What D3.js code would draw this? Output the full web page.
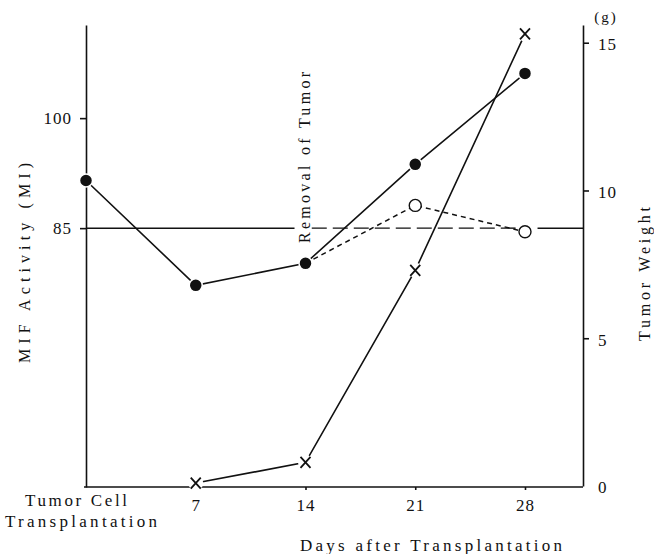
<!DOCTYPE html>
<html>
<head>
<meta charset="utf-8">
<script src="https://cdn.jsdelivr.net/npm/d3@7"></script>
<style>
  body { margin: 0; background: #fff; }
  text { font-family: "Liberation Serif", "DejaVu Serif", serif; fill: #111; }
</style>
</head>
<body>
<script>
// values
var days = [0, 7, 14, 21, 28];
var mifActivity = [91.5, 77.2, 80.2, 93.7, 106.1];

var removedDays = [14, 21, 28];
var mifRemoved = [80.2, 88.1, 84.5];

var tumorDays = [7, 14, 21, 28];
var tumorWeight = [0.1, 0.8, 7.3, 15.3];

var mifTicks = [85, 100];
var weightTicks = [0, 5, 10, 15];
var dayTicks = [7, 14, 21, 28];
var normalMif = 85;

var chart = {
	width: 654,
	height: 554
};

var svg = d3.select("body")
	.append("svg")
	.attr("width", chart.width)
	.attr("height", chart.height)
	.style("background-color", "white");

var x = d3.scaleLinear().domain([0, 31.7]).range([86, 583]);
var yMif = d3.scaleLinear().domain([49.7, 112.7]).range([487, 25]);
var yWeight = d3.scaleLinear().domain([0, 15.6]).range([486, 25]);

function styleAxis(g){
	g.selectAll("path, line").attr("stroke", "#111").attr("stroke-width", 1.6);
	g.selectAll("text")
		.style("font-size", "17px")
		.style("font-family", "Liberation Serif, serif")
		.attr("fill", "#111");
}

// left axis
svg.append("g")
	.attr("transform", "translate(" + x(0) + ",0)")
	.call(d3.axisLeft(yMif).tickValues(mifTicks).tickSize(6).tickSizeOuter(0).tickPadding(8))
	.call(styleAxis)
	.selectAll(".tick text").attr("letter-spacing", "1px");

// right axis
var right = svg.append("g")
	.attr("transform", "translate(" + x(31.7) + ",0)")
	.call(d3.axisRight(yWeight).tickValues(weightTicks).tickSize(6).tickSizeOuter(0).tickPadding(9))
	.call(styleAxis);
right.selectAll(".tick").filter(function(d){ return d === 0; }).select("line").remove();
right.selectAll(".tick text").attr("dy", "0.4em").attr("letter-spacing", "1px");

// bottom axis
var bottom = svg.append("g")
	.attr("transform", "translate(0," + yMif(49.7) + ")")
	.call(d3.axisBottom(x).tickValues(dayTicks).tickSize(3).tickSizeOuter(0).tickPadding(9))
	.call(styleAxis);
bottom.selectAll(".tick text").attr("letter-spacing", "1px");
bottom.select(".domain").attr("d", "M" + (x(0) - 2) + ",0H" + x(31.7));

// reference line at 85 (broken by the label, dashed in the middle)
var refY = yMif(normalMif);
svg.append("line")
	.attr("x1", x(0)).attr("x2", x(13.3))
	.attr("y1", refY).attr("y2", refY)
	.attr("stroke", "#111").attr("stroke-width", 1.5);
svg.append("line")
	.attr("x1", x(14.4)).attr("x2", x(27.4))
	.attr("y1", refY).attr("y2", refY)
	.attr("stroke", "#111").attr("stroke-width", 1.4)
	.attr("stroke-dasharray", "15,6");
svg.append("line")
	.attr("x1", x(28.8)).attr("x2", x(31.7))
	.attr("y1", refY).attr("y2", refY)
	.attr("stroke", "#111").attr("stroke-width", 1.5);

// lines
var mifLine = d3.line()
	.x(function(d){ return x(d[0]); })
	.y(function(d){ return yMif(d[1]); });

var tumorLine = d3.line()
	.x(function(d){ return x(d[0]); })
	.y(function(d){ return yWeight(d[1]); });

var mifPts = days.map(function(d, i){ return [d, mifActivity[i]]; });
var removedPts = removedDays.map(function(d, i){ return [d, mifRemoved[i]]; });
var tumorPts = tumorDays.map(function(d, i){ return [d, tumorWeight[i]]; });

svg.append("path")
	.datum(tumorPts)
	.attr("d", tumorLine)
	.attr("fill", "none")
	.attr("stroke", "#111")
	.attr("stroke-width", 1.6);

svg.append("path")
	.datum(removedPts)
	.attr("d", mifLine)
	.attr("fill", "none")
	.attr("stroke", "#111")
	.attr("stroke-width", 1.5)
	.attr("stroke-dasharray", "5,4");

svg.append("path")
	.datum(mifPts)
	.attr("d", mifLine)
	.attr("fill", "none")
	.attr("stroke", "#111")
	.attr("stroke-width", 1.6);

// markers: white halo first so lines stop short, like the print
svg.selectAll(".cross")
	.data(tumorPts)
	.enter()
	.append("g")
	.attr("class", "cross")
	.attr("transform", function(d){ return "translate(" + x(d[0]) + "," + yWeight(d[1]) + ")"; })
	.each(function(){
		var g = d3.select(this);
		g.append("circle").attr("r", 7.5).attr("fill", "white");
		g.append("path")
			.attr("d", "M-5,-5.5L5,5.5M-5,5.5L5,-5.5")
			.attr("stroke", "#111")
			.attr("stroke-width", 1.8);
	});

svg.selectAll(".open")
	.data(removedPts.slice(1))
	.enter()
	.append("circle")
	.attr("class", "open")
	.attr("cx", function(d){ return x(d[0]); })
	.attr("cy", function(d){ return yMif(d[1]); })
	.attr("r", 6)
	.attr("fill", "white")
	.attr("stroke", "#111")
	.attr("stroke-width", 1.4);

svg.selectAll(".dot")
	.data(mifPts)
	.enter()
	.append("circle")
	.attr("class", "dot")
	.attr("cx", function(d){ return x(d[0]); })
	.attr("cy", function(d){ return yMif(d[1]); })
	.attr("r", 6.5)
	.attr("fill", "#111")
	.attr("stroke", "white")
	.attr("stroke-width", 1.5);

// labels
svg.append("text")
	.attr("transform", "translate(30,263) rotate(-90)")
	.attr("text-anchor", "middle")
	.attr("textLength", 200)
	.attr("lengthAdjust", "spacing")
	.style("font-size", "16px")
	.text("MIF Activity (MI)");

svg.append("text")
	.attr("transform", "translate(650,274) rotate(-90)")
	.attr("text-anchor", "middle")
	.attr("textLength", 134)
	.attr("lengthAdjust", "spacing")
	.style("font-size", "16px")
	.text("Tumor Weight");

svg.append("text")
	.attr("x", 606)
	.attr("y", 22)
	.attr("text-anchor", "middle")
	.attr("letter-spacing", "2px")
	.style("font-size", "15px")
	.text("(g)");

svg.append("text")
	.attr("transform", "translate(" + (x(14) + 5) + ",243) rotate(-90)")
	.attr("textLength", 171)
	.attr("lengthAdjust", "spacing")
	.style("font-size", "16px")
	.text("Removal of Tumor");

svg.append("text")
	.attr("x", 76)
	.attr("y", 506)
	.attr("text-anchor", "middle")
	.attr("textLength", 102)
	.attr("lengthAdjust", "spacing")
	.style("font-size", "17px")
	.text("Tumor Cell");

svg.append("text")
	.attr("x", 81)
	.attr("y", 527)
	.attr("text-anchor", "middle")
	.attr("textLength", 152)
	.attr("lengthAdjust", "spacing")
	.style("font-size", "17px")
	.text("Transplantation");

svg.append("text")
	.attr("x", 431)
	.attr("y", 551)
	.attr("text-anchor", "middle")
	.attr("textLength", 262)
	.attr("lengthAdjust", "spacing")
	.style("font-size", "17px")
	.text("Days after Transplantation");
</script>
</body>
</html>
